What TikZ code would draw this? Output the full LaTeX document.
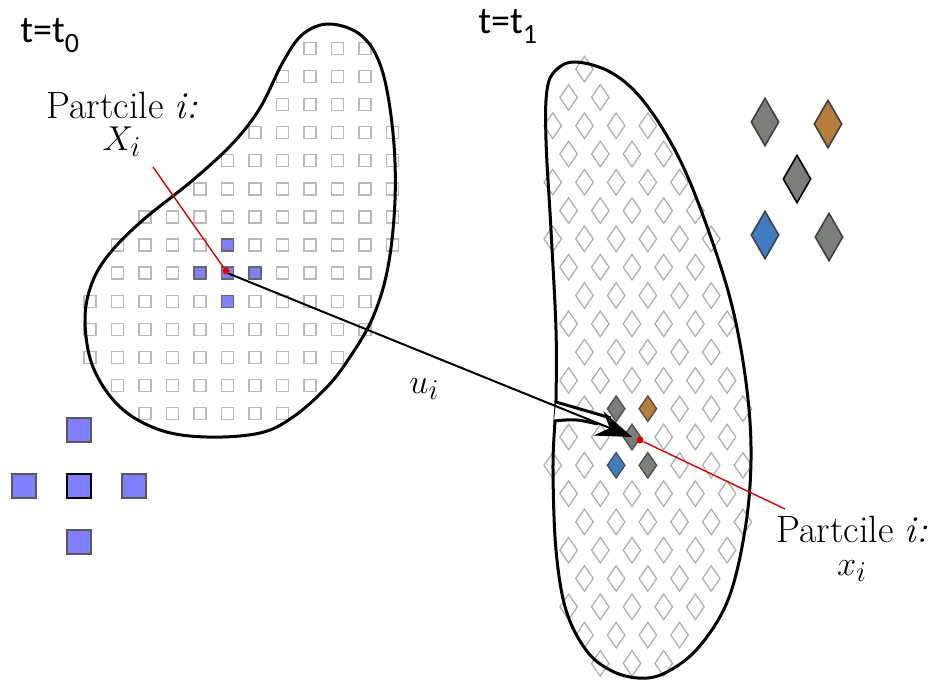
\documentclass[tikz,border=0pt]{standalone}
\usepackage{fontspec}
\usepackage{amsmath}
\newfontfamily\calfont{Carlito}
\usetikzlibrary{arrows.meta, shapes.geometric}
\definecolor{partblue}{HTML}{8080FF}
\definecolor{partgray}{HTML}{7A8079}
\definecolor{partorange}{HTML}{B87D3D}
\definecolor{partsky}{HTML}{3E7DC2}

\begin{document}
\begin{tikzpicture}[
    x=0.5pt, y=-0.5pt,
    every node/.style={font=\fontsize{19}{21}\selectfont},
    lbl/.style={inner sep=0pt},
    tlbl/.style={inner sep=0pt, font=\calfont\fontsize{19}{20}\selectfont},
    gridsq/.style={draw=gray!55, line width=0.7pt, minimum size=6pt, inner sep=0pt},
    bluesq/.style={gridsq, fill=partblue, draw=gray!80!black},
    bigsq/.style={draw=gray!70!black, fill=partblue, line width=0.8pt, minimum size=12pt, inner sep=0pt},
    gridrh/.style={diamond, draw=gray!65, line width=0.6pt, minimum width=9pt, minimum height=13pt, inner sep=0pt},
    fillrh/.style={gridrh, draw=gray!60!black},
    bigrh/.style={diamond, draw=gray!50!black, line width=0.8pt, minimum width=14pt, minimum height=24pt, inner sep=0pt},
    blob/.style={line width=1.5pt},
    uarrow/.style={line width=1pt, -{Stealth[length=18pt, width=13pt, inset=6pt]}},
    rdot/.style={circle, fill=red!90!black, inner sep=0pt, minimum size=3.5pt},
    redline/.style={red!85!black, line width=0.7pt},
  ]
    \def\gx{27.5}                          % square grid step (px)
    \def\gy{28.1}
    \def\dx{15.85}                         % diamond lattice half step
    \def\dy{28.3}
    \fill[white] (0,0) rectangle (933,681);
    \useasboundingbox (0,0) rectangle (933,681);

    % t = t0 : square grid
    \foreach \r/\ca/\cb in {0/8/10, 1/7/10, 2/7/10, 3/6/11, 4/5/11, 5/4/11, 6/2/11,
                            7/1/11, 8/1/10, 9/0/10, 10/0/10, 11/0/9, 12/1/8, 13/2/7}
      \foreach \c in {\ca,...,\cb}
        \node[gridsq] (sq-\r-\c) at ({90+\c*\gx},{48.3+\r*\gy}) {};

    % t = t1 : diamond lattice
    \foreach \n/\ja/\m in {-13/-3/0, -12/-4/1, -11/-5/3, -10/-4/3, -9/-5/4, -8/-4/4,
                           -7/-5/5, -6/-4/4, -5/-3/4, -4/-4/5, -3/-3/4, -2/-4/5,
                           -1/-3/5, 0/-4/5, 1/-5/6, 2/-4/5, 3/-3/5, 4/-4/5,
                           5/-3/4, 6/-4/4, 7/-3/3, 8/-2/2}
      \foreach \k in {0,...,\m}
        \node[gridrh] (rh-\n-\k) at ({632+(\ja+2*\k)*\dx},{437+\n*\dy}) {};

    % outlines
    \draw[blob] plot[smooth cycle, tension=0.6] coordinates {
      (330,24) (362,36) (382,70) (393,133) (395,200) (388,267) (373,317)
      (350,357) (327,387) (293,417) (260,433) (207,437) (160,430) (120,407)
      (93,367) (85,320) (92,283) (110,253) (143,220) (193,180) (233,143)
      (260,108) (283,62) (303,34)};
    \draw[blob] plot[smooth cycle, tension=0.6] coordinates {
      (576,62) (612,73) (645,103) (680,160) (710,235) (733,310) (747,390)
      (751,460) (745,530) (728,600) (698,648) (665,673) (638,678) (610,670)
      (586,650) (566,610) (556,550) (553,470) (555,420) (556,400) (556,330)
      (551,230) (546,140) (547,90) (556,70)};

    % particle i and neighbours
    \node[bluesq] (Xi)  at ({90+5*\gx},{48.3+8*\gy}) {};
    \node[bluesq] (Xn)  at ({90+5*\gx},{48.3+7*\gy}) {};
    \node[bluesq] (Xw)  at ({90+4*\gx},{48.3+8*\gy}) {};
    \node[bluesq] (Xe)  at ({90+6*\gx},{48.3+8*\gy}) {};
    \node[bluesq] (Xs)  at ({90+5*\gx},{48.3+9*\gy}) {};

    \node[fillrh, fill=partgray]   (xi)  at (632,437) {};
    \node[fillrh, fill=partgray]   (xnw) at ({632-\dx},{437-\dy}) {};
    \node[fillrh, fill=partorange] (xne) at ({632+\dx},{437-\dy}) {};
    \node[fillrh, fill=partsky]    (xsw) at ({632-\dx},{437+\dy}) {};
    \node[fillrh, fill=partgray]   (xse) at ({632+\dx},{437+\dy}) {};

    % enlarged neighbourhoods
    \node[bigsq, draw=black] (Pc) at (79,486) {};
    \node[bigsq] (Pn) at (79,430) {};
    \node[bigsq] (Ps) at (79,542) {};
    \node[bigsq] (Pw) at (24,486) {};
    \node[bigsq] (Pe) at (134,486) {};

    \node[bigrh, fill=partgray]   (pnw) at (765,122) {};
    \node[bigrh, fill=partorange] (pne) at (828,124) {};
    \node[bigrh, fill=partgray, draw=black] (pc) at (797,179) {};
    \node[bigrh, fill=partsky]    (psw) at (765,235) {};
    \node[bigrh, fill=partgray]   (pse) at (829,237) {};

    % notch where u_i enters
    \coordinate (nA) at (556,402);
    \coordinate (nB) at (611,418);
    \coordinate (nC) at (598,424);
    \coordinate (nD) at (554,421);
    \fill[white] (nA) -- (nB) -- (nC) .. controls (575,419) .. (nD) -- cycle;
    \draw[blob] (nA) -- (nB);
    \draw[blob] (nD) .. controls (575,419) .. (nC);

    % displacement
    \draw[uarrow] (Xi.center) -- (xi.center);
    \node[lbl, anchor=base west] (ulbl) at (409,393) {$u_i$};

    % particle labels
    \coordinate (lnL) at (153,167);
    \coordinate (lnR) at (785,509);
    \node[rdot] (dotL) at (226,271) {};
    \node[rdot] (dotR) at (640,440) {};
    \draw[redline] (lnL) -- (dotL);
    \draw[redline] (dotR) -- (lnR);

    \node[lbl, anchor=base] (lblP0) at (122,118) {Partcile \textit{i:}};
    \node[lbl, anchor=base] (lblX0) at (122,150) {$X_i$};
    \node[lbl, anchor=base] (lblP1) at (852,542) {Partcile \textit{i:}};
    \node[lbl, anchor=base] (lblX1) at (852,575) {$x_i$};

    % time labels
    \node[tlbl, anchor=base west] (t0) at (20,42) {t=t\raisebox{-5pt}{\fontsize{14}{14}\selectfont 0}};
    \node[tlbl, anchor=base west] (t1) at (478,33) {t=t\raisebox{-5pt}{\fontsize{14}{14}\selectfont 1}};
  \end{tikzpicture}
\end{document}
